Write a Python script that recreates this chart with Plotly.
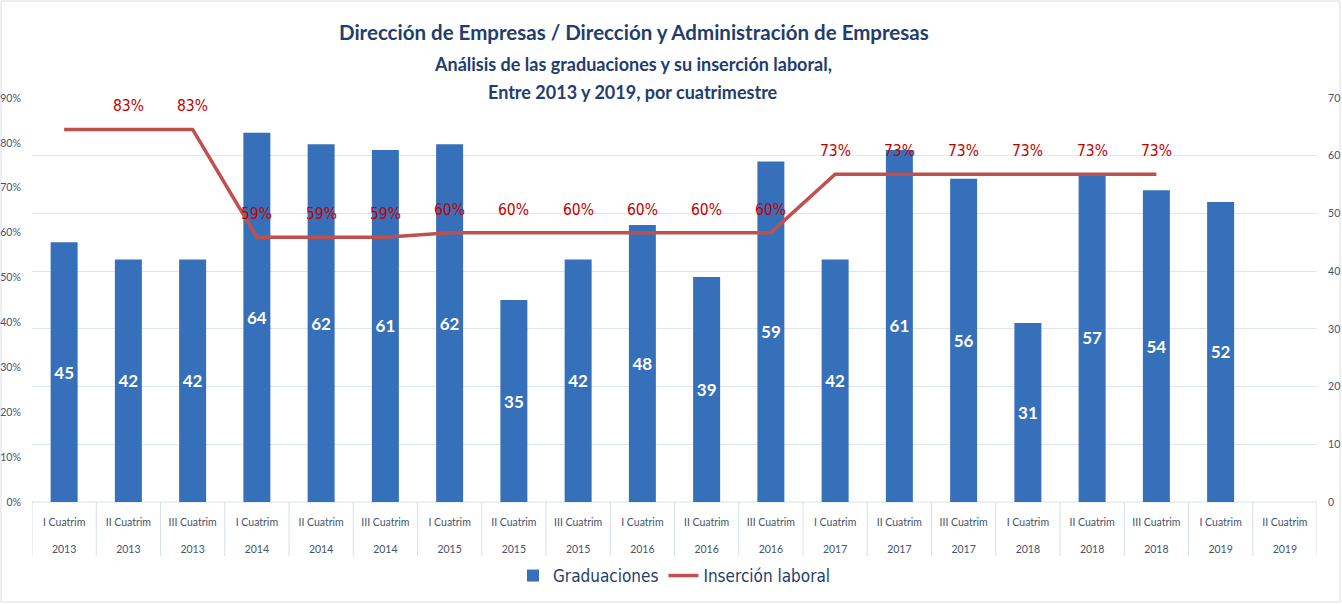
import plotly.graph_objects as go

quarters = ["I Cuatrim", "II Cuatrim", "III Cuatrim"] * 6 + ["I Cuatrim", "II Cuatrim"]
years = ["2013"] * 3 + ["2014"] * 3 + ["2015"] * 3 + ["2016"] * 3 + ["2017"] * 3 + ["2018"] * 3 + ["2019"] * 2
graduaciones = [45, 42, 42, 64, 62, 61, 62, 35, 42, 48, 39, 59, 42, 61, 56, 31, 57, 54, 52, None]
insercion = [0.83, 0.83, 0.83, 0.59, 0.59, 0.59, 0.60, 0.60, 0.60, 0.60, 0.60, 0.60,
             0.73, 0.73, 0.73, 0.73, 0.73, 0.73, None, None]
show_label = [False] + [True] * 17 + [False, False]

title_main = "Dirección de Empresas / Dirección y Administración de Empresas"
subtitle_1 = "Análisis de las graduaciones y su inserción laboral,"
subtitle_2 = "Entre 2013 y 2019, por cuatrimestre"

cats = [f"{q} {y}" for q, y in zip(quarters, years)]
ticktext = [f"{q}<br><br>{y}" for q, y in zip(quarters, years)]
bar_text = ["" if v is None else str(v) for v in graduaciones]

W, H = 1342, 604
ml, mr, mt, mb = 32, 25, 98, 102
pw, ph = W - ml - mr, H - mt - mb


def py(pix):
    """paper y from a pixel row of the page"""
    return (H - mb - pix) / ph


def px(pix):
    return (pix - ml) / pw


fig = go.Figure()
fig.add_trace(go.Bar(
    x=cats, y=graduaciones, name="Graduaciones", yaxis="y",
    marker=dict(color="#3670bb", line=dict(width=0)),
    width=0.42,
    text=bar_text, textposition="inside", insidetextanchor="middle",
    textfont=dict(family="Lato", size=17, color="white", weight="bold"),
    textangle=0, hoverinfo="x+y",
))
fig.add_trace(go.Scatter(
    x=cats, y=insercion, name="Inserción laboral", yaxis="y2",
    mode="lines", line=dict(color="#c0504d", width=3.5),
    connectgaps=False,
))

shapes = []
for i in range(len(cats) + 1):
    shapes.append(dict(type="line", xref="x", yref="paper",
                       x0=i - 0.5, x1=i - 0.5, y0=0, y1=py(556),
                       line=dict(color="#d6e0ee", width=1), layer="below"))
shapes.append(dict(type="line", xref="paper", yref="paper", x0=0, x1=1, y0=0, y1=0,
                   line=dict(color="#d6e0ee", width=1), layer="below"))
shapes.append(dict(type="rect", xref="paper", yref="paper",
                   x0=px(1), x1=px(W - 2), y0=py(H - 2), y1=py(1),
                   line=dict(color="#d9dde3", width=1), fillcolor="rgba(0,0,0,0)",
                   layer="below"))

annotations = [
    dict(text=f"<b>{title_main}</b>", xref="paper", yref="paper", x=px(634), y=py(32),
         xanchor="center", yanchor="middle", showarrow=False,
         font=dict(family="Lato", size=20.5, color="#1f3d6e")),
    dict(text=f"<b>{subtitle_1}</b>", xref="paper", yref="paper", x=px(633), y=py(64),
         xanchor="center", yanchor="middle", showarrow=False,
         font=dict(family="Lato", size=18, color="#1f3d6e")),
    dict(text=f"<b>{subtitle_2}</b>", xref="paper", yref="paper", x=px(633), y=py(92),
         xanchor="center", yanchor="middle", showarrow=False,
         font=dict(family="Lato", size=18, color="#1f3d6e")),
]
# data labels of the line, placed above each point
for c, v, s in zip(cats, insercion, show_label):
    if v is None or not s:
        continue
    annotations.append(dict(
        text=f"{v*100:.0f}%", xref="x", yref="y2", x=c, y=v,
        xanchor="center", yanchor="middle", yshift=23, showarrow=False,
        font=dict(family="DejaVu Sans Condensed", size=15.5, color="#c00000"),
    ))

tickfont = dict(family="Lato", size=10.5, color="#44546a")

fig.update_layout(
    width=W, height=H,
    margin=dict(l=ml, r=mr, t=mt, b=mb, autoexpand=False),
    paper_bgcolor="white", plot_bgcolor="white",
    xaxis=dict(
        type="category", categoryorder="array", categoryarray=cats,
        tickmode="array", tickvals=cats, ticktext=ticktext,
        tickfont=dict(family="Lato", size=10.5, color="#44546a"),
        ticks="outside", ticklen=10, tickcolor="rgba(0,0,0,0)",
        showgrid=False, showline=False, zeroline=False, automargin=False,
        range=[-0.5, len(cats) - 0.5],
    ),
    yaxis=dict(
        range=[0, 70], dtick=10, side="right",
        showgrid=True, gridcolor="#dbe5f3", gridwidth=1, zeroline=False, showline=False,
        tickfont=tickfont, automargin=False,
        ticks="outside", ticklen=8, tickcolor="rgba(0,0,0,0)",
    ),
    yaxis2=dict(
        range=[0, 0.9], dtick=0.1, tickformat=".0%", overlaying="y", side="left",
        showgrid=False, zeroline=False, showline=False, automargin=False,
        tickfont=tickfont,
        ticks="outside", ticklen=8, tickcolor="rgba(0,0,0,0)",
    ),
    legend=dict(
        orientation="h", x=0.5, xanchor="center", y=py(576), yanchor="middle",
        font=dict(family="DejaVu Sans Condensed", size=17, color="#1f3d6e"),
        itemwidth=30, traceorder="normal",
    ),
    shapes=shapes,
    annotations=annotations,
    showlegend=True,
    bargap=0.5,
)

fig.write_html(
    "out.html",
    config={"displayModeBar": False},
    post_script="document.body.style.margin='0px';document.body.style.overflow='hidden';",
)
